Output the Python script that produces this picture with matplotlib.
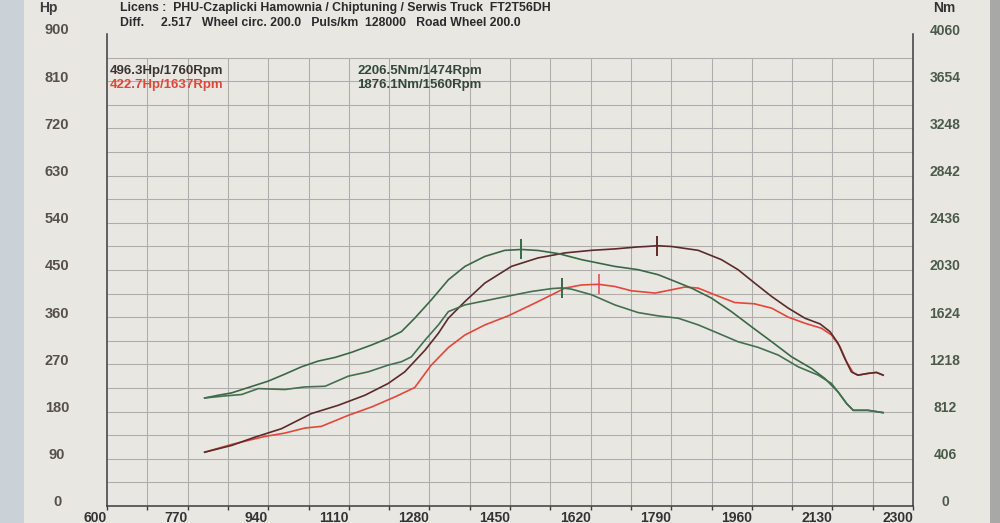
import matplotlib
matplotlib.use("Agg")
import matplotlib.pyplot as plt
import matplotlib.transforms as mtransforms
from matplotlib.patches import Rectangle

# ---------------- data ----------------
hp1_rpm = [806, 863, 912, 968, 1031, 1088, 1144, 1193, 1228, 1271, 1299, 1320, 1355, 1397,
           1453, 1509, 1566, 1622, 1671, 1720, 1741, 1760, 1791, 1847, 1896, 1931, 1966, 2002,
           2037, 2072, 2104, 2125, 2142, 2156, 2170, 2184, 2205, 2223, 2237]
hp1_val = [102.6, 115.5, 131.3, 147.4, 176.2, 192.1, 211.2, 233.6, 255.8, 297.4, 329.4, 358.1,
           389.9, 425.1, 456.9, 473.0, 482.6, 487.5, 490.2, 494.0, 495.0, 496.3, 494.8, 487.5,
           469.7, 450.6, 425.1, 399.4, 377.2, 358.1, 347.2, 332.4, 310.2, 281.5, 255.8, 249.5,
           252.8, 254.7, 249.5]

hp2_rpm = [806, 863, 933, 975, 1017, 1052, 1109, 1158, 1207, 1249, 1284, 1320, 1355, 1397,
           1446, 1495, 1538, 1566, 1601, 1637, 1671, 1706, 1756, 1791, 1819, 1847, 1882, 1924,
           1966, 2002, 2037, 2072, 2107, 2128, 2146, 2160, 2174, 2184, 2205, 2223, 2237]
hp2_val = [102.6, 117.4, 132.7, 139.0, 148.6, 151.8, 172.9, 188.8, 207.9, 225.9, 268.7, 302.2,
           326.1, 345.3, 362.5, 383.6, 402.7, 415.5, 421.5, 422.7, 418.6, 410.4, 406.0, 412.3,
           417.5, 415.5, 402.7, 388.0, 385.5, 377.2, 360.0, 348.5, 338.9, 326.1, 303.7, 275.0,
           253.9, 249.5, 252.8, 254.7, 249.5]

nm1_rpm = [806, 835, 863, 898, 940, 975, 1010, 1045, 1081, 1116, 1158, 1193, 1221, 1249, 1284,
           1320, 1355, 1397, 1439, 1474, 1509, 1552, 1601, 1671, 1720, 1763, 1798, 1833, 1875,
           1917, 1959, 2002, 2044, 2086, 2114, 2142, 2160, 2174, 2205, 2237]
nm1_val = [929, 953, 973, 1019, 1074, 1134, 1197, 1246, 1278, 1322, 1385, 1443, 1500, 1615,
           1773, 1946, 2061, 2147, 2199, 2206.5, 2198, 2171, 2119, 2061, 2033, 1989, 1932, 1874,
           1788, 1672, 1543, 1413, 1283, 1183, 1097, 981, 881, 823, 823, 803]

nm2_rpm = [806, 849, 884, 919, 975, 1017, 1060, 1109, 1151, 1193, 1221, 1242, 1271, 1299, 1320,
           1355, 1425, 1495, 1538, 1560, 1580, 1622, 1671, 1720, 1763, 1805, 1847, 1889, 1931,
           1973, 2016, 2058, 2100, 2128, 2142, 2160, 2174, 2205, 2237]
nm2_val = [929, 947, 959, 1010, 1002, 1024, 1030, 1117, 1154, 1212, 1241, 1283, 1428, 1558,
           1672, 1730, 1788, 1845, 1870, 1876.1, 1865, 1817, 1730, 1664, 1635, 1615, 1558, 1486,
           1413, 1365, 1298, 1197, 1126, 1054, 981, 881, 823, 823, 803]

peak_hp_rpm = [1760, 1637]
peak_hp_val = [496.3, 422.7]
peak_nm_rpm = [1474, 1560]
peak_nm_val = [2206.5, 1876.1]

x_ticks = list(range(600, 2301, 85))
x_labels = [str(v) if (v - 600) % 170 == 0 else "" for v in x_ticks]
hp_ticks = list(range(0, 901, 90))
hp_labels = [str(v) for v in hp_ticks]
nm_ticks = list(range(0, 4061, 406))
nm_labels = [str(v) for v in nm_ticks]

header1 = "Licens :  PHU-Czaplicki Hamownia / Chiptuning / Serwis Truck  FT2T56DH"
header2 = "Diff.     2.517   Wheel circ. 200.0   Puls/km  128000   Road Wheel 200.0"

# ---------------- style ----------------
BG = "#e9e7e2"
C_MAROON = "#5b2b2b"
C_RED = "#e4473a"
C_GREEN1 = "#3a6846"
C_GREEN2 = "#44704f"
C_GRID = "#adadad"
C_AXIS = "#3c3c3c"
FONT = "Liberation Sans"

W, H = 1000, 523
fig = plt.figure(figsize=(10, 5.23), dpi=100, facecolor=BG)

def fx(px):
    return px / W

def fy(py):
    return 1 - py / H

fig.patches.append(Rectangle((0, 0), fx(24), 1, transform=fig.transFigure,
                             facecolor="#cad2d8", edgecolor="none", zorder=-5))
fig.patches.append(Rectangle((fx(990), 0), fx(10), 1, transform=fig.transFigure,
                             facecolor="#a8a8a6", edgecolor="none", zorder=-5))

ax = fig.add_axes([fx(107), fy(506), fx(913) - fx(107), fy(34) - fy(506)])
ax.set_facecolor("none")
ax.set_xlim(600, 2300)
ax.set_ylim(0, 900)
ax2 = ax.twinx()
ax2.set_ylim(0, 4060)
ax2.set_facecolor("none")

grid_top = 855
grid_h = [v for v in range(45, grid_top + 1, 45)]
ax.hlines(grid_h, 600, 2300, colors=C_GRID, linewidth=0.75, zorder=1)
ax.vlines(x_ticks[1:-1], 0, grid_top, colors=C_GRID, linewidth=0.75, zorder=1)

ax.spines["top"].set_visible(False)
for s in ["left", "right", "bottom"]:
    ax.spines[s].set_color(C_AXIS)
    ax.spines[s].set_linewidth(1.1)
for s in ax2.spines.values():
    s.set_visible(False)

lw = 1.2
ax.plot(hp1_rpm, hp1_val, color=C_MAROON, lw=lw, zorder=4)
ax.plot(hp2_rpm, hp2_val, color=C_RED, lw=lw, zorder=3)
ax2.plot(nm1_rpm, nm1_val, color=C_GREEN1, lw=lw, zorder=4)
ax2.plot(nm2_rpm, nm2_val, color=C_GREEN2, lw=lw, zorder=4)

ax.plot(peak_hp_rpm[0], peak_hp_val[0], marker="|", ms=15, mew=1.4, color=C_MAROON, zorder=5)
ax.plot(peak_hp_rpm[1], peak_hp_val[1], marker="|", ms=15, mew=1.1, color=C_RED, zorder=5)
ax2.plot(peak_nm_rpm, peak_nm_val, linestyle="none", marker="|", ms=15, mew=1.4,
         color=C_GREEN1, zorder=5)

# ticks
ax.set_xticks(x_ticks)
ax.set_xticklabels(x_labels, ha="right", fontsize=10, fontweight="bold",
                   color="#333333", family=FONT)
ax.tick_params(axis="x", direction="out", length=3, width=1, color=C_AXIS, pad=0.5)

yoff = mtransforms.ScaledTranslation(0, 3.5 / 100, fig.dpi_scale_trans)
ax.set_yticks(hp_ticks)
ax.set_yticklabels(hp_labels, ha="center", va="center", fontsize=10.5, fontweight="bold",
                   color="#56504c", family=FONT)
ax.tick_params(axis="y", length=0, pad=36)
for lab in ax.get_yticklabels():
    lab.set_transform(lab.get_transform() + yoff)

ax2.set_yticks(nm_ticks)
ax2.set_yticklabels(nm_labels, ha="center", va="center", fontsize=10, fontweight="bold",
                    color="#4b5b4b", family=FONT)
ax2.tick_params(axis="y", length=0, pad=23)
for lab in ax2.get_yticklabels():
    lab.set_transform(lab.get_transform() + yoff)

# texts
fig.text(fx(48), fy(8), "Hp", ha="center", va="center", fontsize=10, fontweight="bold",
         color="#3c3c3c", family=FONT)
fig.text(fx(944), fy(8), "Nm", ha="center", va="center", fontsize=10, fontweight="bold",
         color="#333333", family=FONT)
fig.text(fx(120), fy(8), header1, ha="left", va="center", fontsize=8.8, fontweight="bold",
         color="#2a2a2a", family=FONT)
fig.text(fx(120), fy(23), header2, ha="left", va="center", fontsize=8.8, fontweight="bold",
         color="#2a2a2a", family=FONT)

fig.text(fx(110), fy(71), f"{peak_hp_val[0]}Hp/{peak_hp_rpm[0]}Rpm", ha="left", va="center",
         fontsize=9.5, fontweight="bold", color="#3a3530", family=FONT)
fig.text(fx(110), fy(85), f"{peak_hp_val[1]}Hp/{peak_hp_rpm[1]}Rpm", ha="left", va="center",
         fontsize=9.5, fontweight="bold", color="#e0473c", family=FONT)
fig.text(fx(357), fy(71), f"{peak_nm_val[0]}Nm/{peak_nm_rpm[0]}Rpm", ha="left", va="center",
         fontsize=9.5, fontweight="bold", color="#34483a", family=FONT)
fig.text(fx(357), fy(85), f"{peak_nm_val[1]}Nm/{peak_nm_rpm[1]}Rpm", ha="left", va="center",
         fontsize=9.5, fontweight="bold", color="#34483a", family=FONT)

fig.savefig("out.png", dpi=100, facecolor=BG)
